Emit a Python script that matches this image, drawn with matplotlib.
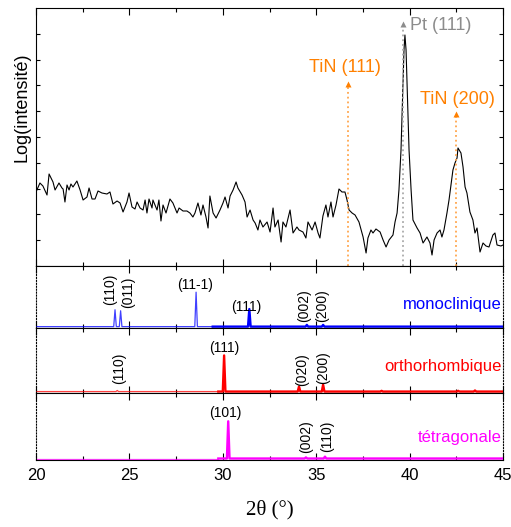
import numpy as np
import matplotlib
matplotlib.use('Agg')
import matplotlib.pyplot as plt

plt.rcParams['font.family'] = ['Liberation Sans', 'DejaVu Sans']

# --- measured XRD scan (2theta in degrees, log intensity in arbitrary units) ---
two_theta = [
    20.00, 20.21, 20.37, 20.59, 20.70, 20.91, 21.02, 21.23, 21.39, 21.45,
    21.55, 21.66, 21.77, 21.87, 21.98, 22.19, 22.36, 22.52, 22.73, 22.84,
    23.00, 23.16, 23.32, 23.53, 23.80, 23.96, 24.12, 24.34, 24.50, 24.66,
    24.87, 24.98, 25.14, 25.30, 25.41, 25.57, 25.73, 25.84, 25.94, 26.05,
    26.21, 26.26, 26.48, 26.58, 26.69, 26.80, 26.96, 27.17, 27.33, 27.55,
    27.66, 27.87, 28.08, 28.24, 28.40, 28.51, 28.67, 28.83, 28.94, 29.10,
    29.21, 29.31, 29.48, 29.64, 29.85, 30.01, 30.12, 30.28, 30.39, 30.55,
    30.71, 30.81, 31.03, 31.19, 31.30, 31.46, 31.62, 31.73, 31.88, 31.99,
    32.15, 32.37, 32.53, 32.69, 32.79, 32.96, 33.12, 33.22, 33.38, 33.60,
    33.76, 33.97, 34.08, 34.29, 34.45, 34.56, 34.78, 34.94, 35.10, 35.20,
    35.36, 35.52, 35.63, 35.79, 35.90, 36.06, 36.22, 36.38, 36.54, 36.65,
    36.76, 36.92, 37.08, 37.29, 37.51, 37.67, 37.77, 37.93, 38.04, 38.20,
    38.42, 38.58, 38.74, 38.90, 39.11, 39.22, 39.33, 39.43, 39.54, 39.62,
    39.70, 39.75, 39.81, 39.89, 39.97, 40.08, 40.18, 40.40, 40.56, 40.72,
    40.93, 41.09, 41.20, 41.31, 41.47, 41.63, 41.73, 41.84, 42.00, 42.11,
    42.32, 42.43, 42.54, 42.59, 42.75, 42.86, 42.97, 43.07, 43.23, 43.39,
    43.50, 43.61, 43.77, 43.93, 44.09, 44.25, 44.46, 44.57, 44.68, 44.89,
    45.00,
]
log_intensity = [
    74, 83, 80, 71, 92, 84, 76, 83, 78, 77,
    64, 81, 76, 82, 79, 85, 76, 66, 69, 78,
    67, 67, 75, 73, 72, 74, 62, 65, 63, 54,
    64, 73, 59, 57, 64, 58, 56, 66, 53, 67,
    58, 66, 56, 66, 45, 61, 53, 67, 63, 53,
    58, 55, 55, 53, 49, 53, 63, 51, 61, 49,
    38, 70, 53, 48, 56, 63, 69, 58, 70, 76,
    84, 78, 71, 64, 49, 56, 46, 43, 36, 46,
    39, 44, 34, 58, 39, 46, 24, 44, 39, 56,
    33, 39, 36, 34, 28, 44, 36, 44, 33, 28,
    50, 61, 49, 64, 49, 61, 77, 74, 74, 66,
    56, 53, 51, 44, 29, 13, 28, 36, 33, 37,
    34, 26, 19, 26, 31, 44, 53, 76, 116, 166,
    216, 231, 216, 166, 116, 76, 46, 38, 33, 23,
    29, 23, 11, 26, 33, 36, 29, 36, 53, 66,
    96, 103, 108, 118, 113, 99, 79, 73, 54, 46,
    33, 38, 14, 23, 20, 19, 31, 33, 21, 20,
    21,
]

# --- reference phases: peak positions (deg) and relative intensities ---
mono_pos = [24.23, 24.53, 28.57, 31.42, 34.50, 35.37]
mono_int = [49, 46, 100, 51, 5, 5]
mono_hkl = ['(110)', '(011)', '(11-1)', '(111)', '(002)', '(200)']

ortho_pos = [24.35, 30.07, 34.08, 35.37, 38.50, 42.60, 43.50]
ortho_int = [3, 100, 14, 19, 2, 2, 3]
ortho_hkl = ['(110)', '(111)', '(020)', '(200)']

tetra_pos = [30.29, 34.45, 35.47]
tetra_int = [100, 3, 5]
tetra_hkl = ['(101)', '(002)', '(110)']

# annotations in the top panel
tin_111 = 36.68
pt_111 = 39.66
tin_200 = 42.48

orange = '#FF8000'
orange_light = '#FFA64D'
grey = '#8C8C8C'

W, H = 511, 527
fig = plt.figure(figsize=(W / 100, H / 100), dpi=100)


def box(top, bottom, left=36, right=503):
    return [left / W, 1 - bottom / H, (right - left) / W, (bottom - top) / H]


ax0 = fig.add_axes(box(8, 266))
ax1 = fig.add_axes(box(266, 328))
ax2 = fig.add_axes(box(328, 393))
ax3 = fig.add_axes(box(393, 460))


def style(ax, labels=False):
    ax.set_xlim(20, 45)
    ax.set_xticks([20, 25, 30, 35, 40, 45])
    ax.set_xticks([22.5, 27.5, 32.5, 37.5, 42.5], minor=True)
    ax.tick_params(axis='x', which='both', direction='in', top=True, bottom=True,
                   labelbottom=labels, labelsize=12, pad=6)
    ax.tick_params(axis='x', which='major', length=5, width=0.8)
    ax.tick_params(axis='x', which='minor', length=3, width=0.8)


# top panel: measured pattern
ax0.plot(two_theta, log_intensity, color='black', lw=0.8)
ax0.set_ylim(0, 258)
ax0.set_yticks(np.arange(0, 258, 25.8))
ax0.tick_params(axis='y', direction='in', left=True, right=True, labelleft=False,
                length=3, width=0.8)
style(ax0)


def arrow(ax, x, tip, color, lcolor):
    ax.plot([x, x], [0, tip - 4], ls=':', color=lcolor, lw=1.3)
    ax.plot(x, tip - 4, marker='^', ms=5, color=color, mec='none')


arrow(ax0, tin_111, 186, orange, orange_light)
arrow(ax0, pt_111, 246, grey, '#AAAAAA')
arrow(ax0, tin_200, 156, orange, orange_light)
ax0.text(tin_111 - 0.14, 199, 'TiN (111)', color=orange, fontsize=13,
         ha='center', va='center')
ax0.text(pt_111 + 0.35, 241, 'Pt (111)', color=grey, fontsize=13,
         ha='left', va='center')
ax0.text(tin_200 + 0.06, 167, 'TiN (200)', color=orange, fontsize=13,
         ha='center', va='center')
fig.text(22 / W, 1 - 107 / H, 'Log(intensité)', rotation=90, fontsize=13,
         ha='center', va='center')


def stick_pattern(pos, inten):
    xs, ys = [20.0], [0.0]
    for p, h in zip(pos, inten):
        xs += [p - 0.07, p, p + 0.07]
        ys += [0.0, h, 0.0]
    xs.append(45.0)
    ys.append(0.0)
    return np.array(xs), np.array(ys)


def phase_panel(ax, pos, inten, color, split, name, name_y, last=False):
    xs, ys = stick_pattern(pos, inten)
    left = xs < split
    ax.plot(np.append(xs[left], split), np.append(ys[left], 0),
            color=color, lw=0.9, alpha=0.75)
    ax.plot(np.insert(xs[~left], 0, split), np.insert(ys[~left], 0, 0),
            color=color, lw=1.7)
    ax.set_ylim(-4, 176)
    ax.set_yticks([])
    for side in ('left', 'right'):
        ax.spines[side].set_linestyle(':')
        ax.spines[side].set_linewidth(0.8)
    ax.text(44.95, name_y, name, color=color, fontsize=12, ha='right',
            va='center', transform=ax.get_xaxis_transform())
    style(ax, labels=last)


phase_panel(ax1, mono_pos, mono_int, '#0000FF', 29.46, 'monoclinique', 0.38)
phase_panel(ax2, ortho_pos, ortho_int, '#FF0000', 29.76, 'orthorhombique', 0.40)
phase_panel(ax3, tetra_pos, tetra_int, '#FF00FF', 29.76, 'tétragonale', 0.33,
            last=True)

lab = dict(fontsize=10, ha='center', va='center')
# monoclinic labels
ax1.text(23.98, 108, mono_hkl[0], rotation=90, **lab)
ax1.text(24.92, 100, mono_hkl[1], rotation=90, **lab)
ax1.text(28.51, 122, mono_hkl[2], **lab)
ax1.text(31.24, 57, mono_hkl[3], **lab)
ax1.text(34.34, 62, mono_hkl[4], rotation=90, **lab)
ax1.text(35.3, 62, mono_hkl[5], rotation=90, **lab)
# orthorhombic labels
ax2.text(24.45, 64, ortho_hkl[0], rotation=90, **lab)
ax2.text(30.07, 121, ortho_hkl[1], **lab)
ax2.text(34.22, 62, ortho_hkl[2], rotation=90, **lab)
ax2.text(35.35, 66, ortho_hkl[3], rotation=90, **lab)
# tetragonal labels
ax3.text(30.16, 121, tetra_hkl[0], **lab)
ax3.text(34.45, 60, tetra_hkl[1], rotation=90, **lab)
ax3.text(35.58, 60, tetra_hkl[2], rotation=90, **lab)

ax3.set_xlabel('2θ (°)', fontsize=15, family=['Liberation Serif', 'DejaVu Serif'],
               labelpad=12)

fig.savefig('out.png', dpi=100)
